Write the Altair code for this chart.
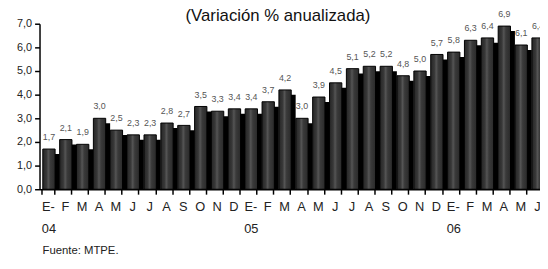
import altair as alt
import pandas as pd

# Data
meses = ["E-", "F", "M", "A", "M", "J", "J", "A", "S", "O", "N", "D",
         "E-", "F", "M", "A", "M", "J", "J", "A", "S", "O", "N", "D",
         "E-", "F", "M", "A", "M", "J"]
valores = [1.7, 2.1, 1.9, 3.0, 2.5, 2.3, 2.3, 2.8, 2.7, 3.5, 3.3, 3.4,
           3.4, 3.7, 4.2, 3.0, 3.9, 4.5, 5.1, 5.2, 5.2, 4.8, 5.0, 5.7,
           5.8, 6.3, 6.4, 6.9, 6.1, 6.4]
anios_pos = [0, 12, 24]
anios = ["04", "05", "06"]
titulo = "(Variación % anualizada)"
fuente = "Fuente: MTPE."
y_ticks = [0, 1, 2, 3, 4, 5, 6, 7]

FONT = "Liberation Sans, Arial, sans-serif"
NARROW = "Liberation Sans Narrow, Arial Narrow, Liberation Sans, sans-serif"

df = pd.DataFrame({"idx": list(range(len(valores))), "valor": valores})
df_anios = pd.DataFrame({"idx": anios_pos, "anio": anios})

label_array = "[" + ",".join("'%s'" % m for m in meses) + "]"

x_enc = alt.X(
    "idx:O",
    scale=alt.Scale(range=[0, 513.6], paddingInner=0.27, paddingOuter=0.135),
    axis=alt.Axis(
        title=None,
        labelExpr=label_array + "[datum.value]",
        labelAngle=0,
        labelOverlap=False,
        tickBand="extent",
        labelFontSize=13,
        labelFont=FONT,
        labelColor="#222222",
        labelPadding=7,
        tickSize=5,
        tickColor="black",
        tickWidth=1.5,
        domainColor="black",
        domainWidth=1.5,
        grid=False,
    ),
)
y_enc = alt.Y(
    "valor:Q",
    scale=alt.Scale(domain=[0, 7], nice=False),
    axis=alt.Axis(
        title=None,
        values=y_ticks,
        tickCount=8,
        labelOverlap=False,
        labelExpr="replace(format(datum.value, '.1f'), '.', ',')",
        labelFontSize=11,
        labelFont=FONT,
        labelColor="#222222",
        labelPadding=3,
        tickSize=5,
        tickColor="black",
        tickWidth=1.5,
        domainColor="black",
        domainWidth=1.5,
        grid=False,
    ),
)

base = alt.Chart(df)

shadow = base.mark_bar(color="black", xOffset=5.5, yOffset=5, clip=True).encode(
    x=x_enc, y=y_enc
)

grad = alt.Gradient(
    gradient="linear", x1=0, x2=1, y1=0, y2=0,
    stops=[
        alt.GradientStop(offset=0, color="#262626"),
        alt.GradientStop(offset=0.3, color="#383838"),
        alt.GradientStop(offset=0.45, color="#555555"),
        alt.GradientStop(offset=0.62, color="#3a3a3a"),
        alt.GradientStop(offset=1, color="#2a2a2a"),
    ],
)
bars = base.mark_bar(fill=grad, stroke="black", strokeWidth=1, xOffset=1).encode(
    x=x_enc, y=y_enc
)

labels = base.transform_calculate(
    etiqueta="replace(format(datum.valor, '.1f'), '.', ',')"
).mark_text(
    dy=-9, fontSize=9, font=NARROW, color="#555555", baseline="alphabetic", xOffset=1
).encode(x=x_enc, y=y_enc, text="etiqueta:N")

years = alt.Chart(df_anios).mark_text(
    fontSize=13, font=FONT, color="#222222", baseline="alphabetic", xOffset=1
).encode(x=x_enc, y=alt.value(212), text="anio:N")

title = alt.Chart(pd.DataFrame({"t": [titulo]})).mark_text(
    fontSize=17, font=FONT, color="#111111", baseline="alphabetic", align="center"
).encode(x=alt.value(242), y=alt.value(-3), text="t:N")

footer = alt.Chart(pd.DataFrame({"t": [fuente]})).mark_text(
    fontSize=11.5, font=FONT, color="#222222", baseline="alphabetic", align="left"
).encode(x=alt.value(3), y=alt.value(234), text="t:N")

chart = alt.layer(shadow, bars, labels, years, title, footer).properties(
    width=508,
    height=168,
    autosize=alt.AutoSizeParams(type="none"),
    padding={"left": 32, "top": 14, "right": 0, "bottom": 79},
).configure_view(stroke=None)

chart.save("out.html", embed_options={"renderer": "svg", "actions": False})
